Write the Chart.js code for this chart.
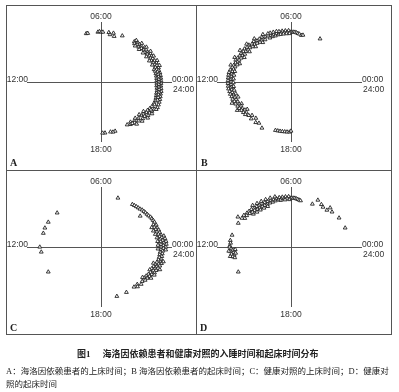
<!DOCTYPE html>
<html>
<head>
<meta charset="utf-8">
<script src="https://cdn.jsdelivr.net/npm/chart.js@4"></script>
<style>
  body { margin: 0; background: #fff; }
  #page { position: relative; width: 399px; height: 392px; overflow: hidden; background: #fff; }
  .frame { position: absolute; box-sizing: border-box; border: 1px solid #555; left: 6px; top: 5px; width: 386px; height: 330px; }
  .vline { position: absolute; left: 196px; top: 5px; width: 1px; height: 330px; background: #555; }
  .hline { position: absolute; left: 6px; top: 170px; width: 386px; height: 1px; background: #555; }
  canvas { position: absolute; }
  .letter { position: absolute; font: bold 10px "Liberation Serif", serif; color: #222; line-height: 10px; }
  .caption { position: absolute; white-space: nowrap; color: #222; font-family: "Liberation Serif", "Noto Sans CJK SC", serif; font-size: 8.5px; line-height: 10px; }
  .title { font-weight: bold; font-size: 9px; }
</style>
</head>
<body>
<div id="page">
  <div class="frame"></div>
  <div class="vline"></div>
  <div class="hline"></div>

  <canvas id="chartA" width="189" height="164" style="left:7px; top:6px"></canvas>
  <canvas id="chartB" width="189" height="164" style="left:197px; top:6px"></canvas>
  <canvas id="chartC" width="189" height="164" style="left:7px; top:171px"></canvas>
  <canvas id="chartD" width="189" height="164" style="left:197px; top:171px"></canvas>

  <div class="letter" style="left:10px; top:158px">A</div>
  <div class="letter" style="left:201px; top:158px">B</div>
  <div class="letter" style="left:10px; top:323px">C</div>
  <div class="letter" style="left:200px; top:323px">D</div>

  <div class="caption title" style="left:77px; top:349px"><span style="margin-right:12px">图1</span>海洛因依赖患者和健康对照的入睡时间和起床时间分布</div>
  <div class="caption" style="left:6px; top:366px">A：海洛因依赖患者的上床时间；B 海洛因依赖患者的起床时间；C：健康对照的上床时间；D：健康对</div>
  <div class="caption" style="left:6px; top:379px">照的起床时间</div>
</div>

<script>
// clock labels: top, left, right, right (second), bottom
const clockTicks = ["06:00", "12:00", "00:00", "24:00", "18:00"];

// [hour of day, distance from centre]
const patientBedtime = [
  [6.95, 1.0], [6.85, 1.0], [6.2, 1.0], [6.1, 1.01], [5.98, 1.0], [5.88, 1.0],
  [5.5, 1.0], [5.4, 0.96], [5.2, 1.0], [5.1, 0.94], [4.6, 0.99],
  [3.7, 0.98], [3.6, 0.95], [3.5, 1.0], [3.4, 0.96], [3.3, 0.99], [3.2, 0.94], [3.1, 0.98], [3.0, 0.95],
  [2.9, 1.0], [2.8, 0.96], [2.7, 0.99], [2.6, 0.94], [2.5, 0.98], [2.4, 0.95], [2.3, 1.0], [2.2, 0.96],
  [2.1, 0.99], [2.0, 0.95], [1.9, 0.98], [1.8, 0.94], [1.7, 0.99], [1.6, 0.95], [1.5, 1.0], [1.4, 0.96],
  [1.3, 0.99], [1.2, 0.95], [1.1, 1.0], [1.0, 0.96],
  [3.65, 1.02], [3.45, 0.92], [3.25, 1.03], [3.05, 0.91], [2.85, 1.03], [2.65, 0.91], [2.45, 1.03], [2.25, 0.91],
  [2.05, 1.02], [1.85, 0.91], [1.65, 1.03], [1.45, 0.92], [1.25, 1.03], [1.05, 0.92],
  [0.9, 0.99], [0.9, 0.93], [0.7, 1.0], [0.7, 0.93], [0.5, 1.0], [0.5, 0.93], [0.3, 1.0], [0.3, 0.93],
  [0.1, 1.0], [0.1, 0.93], [23.9, 1.0], [23.9, 0.93], [23.7, 1.0], [23.7, 0.93], [23.5, 1.01], [23.5, 0.94],
  [23.3, 1.02], [23.3, 0.95], [23.1, 1.02], [23.1, 0.95], [22.9, 1.03], [22.9, 0.96], [22.7, 1.04], [22.7, 0.97],
  [22.5, 1.05], [22.5, 0.98], [22.3, 1.06], [22.3, 0.98],
  [0.8, 0.965], [0.6, 0.965], [0.4, 0.965], [0.2, 0.965], [0.0, 0.965], [23.8, 0.965], [23.6, 0.97],
  [23.4, 0.98], [23.2, 0.985], [23.0, 0.99], [22.8, 1.0], [22.6, 1.01],
  [22.2, 1.0], [22.1, 1.07], [22.0, 0.98], [21.9, 1.04], [21.8, 0.97], [21.7, 1.03], [21.6, 0.96], [21.5, 1.02],
  [21.4, 0.97], [21.3, 1.03], [21.2, 0.96], [21.1, 1.0], [21.0, 0.95], [20.9, 1.01], [20.7, 0.96], [20.6, 1.0],
  [20.4, 0.95], [20.3, 0.99], [20.1, 0.94], [20.0, 0.98], [19.8, 0.96],
  [21.95, 1.07], [21.75, 1.0], [21.55, 1.06], [21.35, 0.92], [21.15, 1.06], [20.95, 0.91], [20.75, 1.04],
  [20.55, 0.92], [20.35, 1.03], [20.15, 0.98],
  [18.9, 1.01], [18.75, 1.02], [18.6, 1.01], [18.25, 1.02], [18.1, 1.02]
];

const patientWaketime = [
  [5.95, 1.0], [5.85, 1.0], [5.75, 1.0], [5.65, 0.99], [5.55, 0.98], [5.45, 0.97], [5.3, 0.95], [5.2, 0.96], [4.05, 0.99],
  [6.05, 1.0], [6.15, 1.03], [6.25, 1.0], [6.35, 1.03], [6.45, 1.0], [6.55, 1.03], [6.65, 1.0], [6.75, 1.03],
  [6.1, 0.97], [6.3, 0.97], [6.5, 0.97], [6.7, 0.97],
  [6.85, 0.97], [6.95, 1.0], [7.05, 0.96], [7.15, 1.0], [7.25, 0.96], [7.35, 0.99], [7.45, 0.95], [7.5, 1.0],
  [6.9, 1.04], [7.1, 1.04], [7.3, 1.04], [7.45, 1.04],
  [7.7, 1.0], [7.8, 0.95], [7.9, 1.02], [8.0, 0.97], [8.1, 1.01], [8.2, 0.95], [8.3, 1.0], [8.4, 0.96],
  [8.5, 1.02], [8.6, 0.97], [8.7, 1.0], [8.8, 0.95],
  [8.9, 1.02], [9.0, 0.97], [9.1, 1.01], [9.2, 0.96], [9.3, 1.02], [9.4, 0.97], [9.5, 1.0], [9.6, 0.95],
  [9.7, 1.01], [9.8, 0.97], [9.9, 1.0],
  [7.75, 1.06], [8.05, 0.92], [8.35, 1.06], [8.65, 0.92], [8.95, 1.06], [9.25, 0.92], [9.55, 1.06], [9.85, 0.92],
  [10.15, 1.06], [10.45, 0.93], [10.75, 1.06],
  [10.0, 0.96], [10.1, 1.01], [10.2, 0.97], [10.3, 1.02], [10.4, 0.98], [10.5, 1.0], [10.6, 0.96], [10.7, 1.01],
  [10.8, 0.98], [10.9, 1.02],
  [11.0, 0.99], [11.1, 1.04], [11.2, 1.0], [11.3, 1.05], [11.4, 1.0], [11.5, 1.05], [11.6, 1.0], [11.7, 1.05],
  [11.8, 1.0], [11.9, 1.05], [12.0, 1.0], [12.1, 1.05], [12.2, 1.0], [12.3, 1.05], [12.4, 1.0], [12.5, 1.05],
  [12.6, 1.0], [12.7, 1.04], [12.8, 1.0], [12.9, 1.04], [13.0, 0.99],
  [11.15, 0.96], [11.45, 0.96], [11.75, 0.96], [12.05, 0.96], [12.35, 0.96], [12.65, 0.96], [12.95, 0.95],
  [13.1, 1.03], [13.2, 0.98], [13.3, 1.03], [13.4, 0.98], [13.5, 1.02], [13.6, 0.97], [13.7, 1.02], [13.8, 0.97], [13.9, 1.01],
  [13.25, 0.93], [13.55, 1.07], [13.85, 0.93], [14.15, 1.06], [14.45, 0.91],
  [14.0, 0.96], [14.1, 1.01], [14.2, 0.97], [14.3, 1.0], [14.4, 0.95], [14.5, 1.0], [14.6, 0.96], [14.7, 1.0],
  [14.9, 0.97], [15.05, 0.93], [15.2, 0.99], [15.4, 0.93], [15.6, 1.0], [15.8, 0.98], [16.15, 1.04],
  [17.0, 1.0], [17.15, 1.0], [17.3, 1.0], [17.45, 1.0], [17.6, 1.0], [17.75, 1.0], [17.9, 1.0], [18.0, 0.98]
];

const controlBedtime = [
  [9.13, 1.0], [10.03, 1.01], [10.52, 1.01], [10.93, 1.0], [12.0, 1.02], [12.38, 1.0], [13.97, 1.01],
  [4.93, 1.02],
  [3.9, 1.0], [3.75, 1.0], [3.6, 1.0], [3.45, 1.0], [3.3, 1.0], [3.15, 1.01], [3.0, 1.01], [2.85, 1.01],
  [2.7, 1.01], [2.55, 1.01], [2.4, 1.02], [2.25, 1.02], [2.1, 1.02], [1.95, 1.02], [2.9, 0.9],
  [1.8, 0.98], [1.7, 1.02], [1.6, 0.97], [1.5, 1.01], [1.4, 0.98], [1.3, 1.02], [1.2, 0.98], [1.1, 1.02],
  [1.0, 0.99], [0.9, 1.03], [1.65, 0.93], [1.35, 0.93], [1.05, 0.94],
  [0.8, 1.0], [0.8, 1.07], [0.7, 1.03], [0.6, 1.0], [0.6, 1.08], [0.5, 1.04], [0.4, 1.0], [0.4, 1.09],
  [0.3, 1.05], [0.2, 1.0], [0.2, 1.09], [0.1, 1.04], [0.0, 1.0], [0.0, 1.08], [23.9, 1.04], [23.8, 1.0], [23.8, 1.08],
  [0.75, 0.95], [0.45, 0.95], [0.15, 0.95], [23.85, 0.95],
  [23.7, 1.03], [23.6, 0.99], [23.5, 1.03], [23.4, 0.99], [23.3, 1.03], [23.2, 0.99], [23.1, 1.03], [23.0, 0.99],
  [22.9, 1.04], [22.8, 0.98], [22.8, 1.06], [22.7, 1.02], [22.6, 0.97], [22.6, 1.05], [22.5, 1.01], [22.4, 0.96],
  [22.4, 1.04], [22.3, 1.0], [22.2, 0.95], [22.2, 1.03], [22.1, 0.99], [22.0, 1.03],
  [22.95, 1.08], [22.65, 0.93], [22.35, 1.08], [22.05, 0.93],
  [21.9, 0.97], [21.8, 1.01], [21.7, 0.96], [21.6, 1.0], [21.5, 0.95], [21.4, 0.99], [21.3, 0.95], [21.2, 0.99],
  [21.85, 1.05], [21.55, 1.04], [21.25, 0.92],
  [21.0, 0.97], [20.8, 1.0], [20.6, 0.96], [20.5, 1.0], [20.3, 0.97],
  [19.67, 1.0], [19.0, 1.02]
];

const controlWaketime = [
  [6.05, 0.98], [6.15, 1.01], [6.25, 0.98], [6.35, 1.01], [6.45, 0.98], [6.55, 1.01], [6.65, 0.98], [6.75, 1.01],
  [6.1, 0.95], [6.4, 0.95], [6.7, 0.95],
  [5.95, 0.98], [5.85, 0.98], [5.75, 0.98], [5.65, 0.97], [5.55, 0.96], [5.45, 0.95], [5.35, 0.94],
  [4.5, 0.93], [4.3, 1.04], [3.95, 0.99], [3.75, 0.96], [3.4, 0.95], [3.35, 1.02], [3.05, 0.98], [2.4, 0.99], [1.53, 0.98],
  [6.85, 0.97], [6.95, 1.0], [7.05, 0.96], [7.15, 0.99], [7.25, 0.95], [7.35, 0.99], [7.45, 0.95], [7.55, 0.99],
  [7.65, 0.94], [7.75, 0.99], [7.85, 0.94], [7.95, 0.99], [8.05, 0.94], [8.15, 0.99], [8.25, 0.94], [8.35, 0.99],
  [8.45, 0.94], [8.55, 0.99], [8.65, 0.95], [8.75, 1.0],
  [7.0, 1.04], [7.3, 1.04], [7.6, 1.04], [7.9, 1.04], [8.2, 1.04], [8.5, 1.05],
  [7.7, 0.9], [8.0, 0.9], [8.3, 0.9], [8.6, 0.9], [8.9, 0.91],
  [8.85, 0.95], [8.95, 1.0], [9.05, 0.96], [9.15, 1.0], [9.3, 0.97], [9.4, 1.01], [9.55, 0.96], [9.65, 1.0],
  [9.72, 1.07], [10.1, 1.0],
  [11.09, 1.01], [11.5, 1.02], [11.7, 1.01], [11.9, 1.02], [12.0, 1.02],
  [12.15, 1.0], [12.25, 0.97], [12.35, 1.01], [12.45, 0.97], [12.55, 1.0], [12.65, 0.96], [12.75, 0.99], [12.85, 0.96],
  [12.2, 0.93], [12.3, 1.04], [12.5, 0.93], [12.7, 1.03],
  [13.97, 1.01]
];

// hour -> angle: 00:00 on the right, 06:00 on top
function toXY(points) {
  return points.map(([h, r]) => {
    const a = h * Math.PI / 12;
    return { x: r * Math.cos(a), y: r * Math.sin(a) };
  });
}

const clockLabels = {
  id: "clockLabels",
  afterDraw(chart) {
    const { ctx, chartArea } = chart;
    const cx = chart.scales.x.getPixelForValue(0);
    const cy = chart.scales.y.getPixelForValue(0);
    ctx.save();
    ctx.fillStyle = "#333";
    ctx.font = '8.5px "Liberation Sans", Arial, sans-serif';
    ctx.textAlign = "center";
    ctx.textBaseline = "bottom";
    ctx.fillText(clockTicks[0], cx, chartArea.top - 1);
    ctx.textAlign = "right";
    ctx.textBaseline = "alphabetic";
    ctx.fillText(clockTicks[1], chartArea.left + 1, cy - 0.5);
    ctx.textAlign = "left";
    ctx.fillText(clockTicks[2], chartArea.right, cy - 0.5);
    ctx.textBaseline = "top";
    ctx.fillText(clockTicks[3], chartArea.right + 1, cy + 3);
    ctx.textAlign = "center";
    ctx.fillText(clockTicks[4], cx, chartArea.bottom + 3);
    ctx.restore();
  }
};

function axisGrid() {
  return {
    drawTicks: false,
    lineWidth: 1,
    color: c => (c.tick && Math.abs(c.tick.value) < 1e-9) ? "#555" : "rgba(0,0,0,0)"
  };
}

function makePanel(id, points) {
  new Chart(document.getElementById(id), {
    type: "scatter",
    data: {
      datasets: [{
        data: toXY(points),
        pointStyle: "triangle",
        pointRadius: 2.2,
        pointBorderWidth: 0.9,
        pointBorderColor: "#222",
        pointBackgroundColor: "#fff"
      }]
    },
    options: {
      responsive: false,
      animation: false,
      devicePixelRatio: 1,
      events: [],
      layout: { padding: { left: 20, top: 16, right: 24, bottom: 28 } },
      plugins: { legend: { display: false }, tooltip: { enabled: false } },
      scales: {
        x: {
          type: "linear", min: -1.233, max: 1.183,
          ticks: { display: false, stepSize: 0.5 },
          border: { display: false },
          grid: axisGrid()
        },
        y: {
          type: "linear", min: -1.2, max: 1.2,
          ticks: { display: false, stepSize: 0.5 },
          border: { display: false },
          grid: axisGrid()
        }
      }
    },
    plugins: [clockLabels]
  });
}

makePanel("chartA", patientBedtime);
makePanel("chartB", patientWaketime);
makePanel("chartC", controlBedtime);
makePanel("chartD", controlWaketime);
</script>
</body>
</html>
